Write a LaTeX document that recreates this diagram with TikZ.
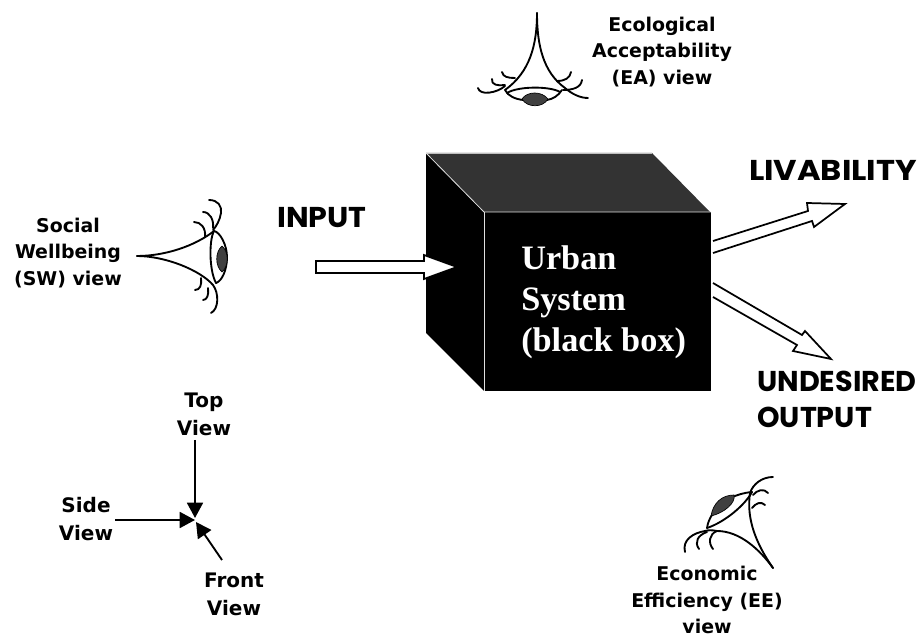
\documentclass[tikz,border=0pt]{standalone}
\usepackage{graphicx}
\usepackage{fontspec}
\setmainfont{Liberation Serif}
\setsansfont{DejaVu Sans}
\newfontfamily\comicfont{Poppins}
\usetikzlibrary{arrows.meta}
\tikzset{
 px/.style={x=0.75pt,y=-0.75pt},
 lab/.style={font=\sffamily\bfseries\fontsize{14.2}{19.6}\selectfont,align=center,inner sep=0pt,text=black},
 viewlab/.style={font=\sffamily\bfseries\fontsize{15}{21}\selectfont,align=center,inner sep=0pt,text=black},
 biglab/.style={font=\comicfont\bfseries\fontsize{21.5}{27}\selectfont,align=left,inner sep=0pt},
 boxlab/.style={font=\rmfamily\bfseries\fontsize{25.7}{30.6}\selectfont,align=left,inner sep=0pt,text=white,anchor=north west},
 eyeline/.style={draw=black,line width=1.4pt,line cap=round,line join=round},
 pupil/.style={fill=black!75,draw=black,line width=0.5pt},
 hollow/.style={draw=black,line width=1.3pt,fill=white,line join=miter},
 viewarrow/.style={draw=black,line width=1.4pt,-{Triangle[length=11.5pt,width=12pt]}}
}
\begin{document}
\begin{tikzpicture}[px]
\useasboundingbox (0,0) rectangle (922,634);
% box
\fill[black] (426,153) -- (484,212) -- (484,391) -- (426,333) -- cycle;
\fill[black!80] (426,153) -- (652,153) -- (710,212) -- (484,212) -- cycle;
\fill[black] (484,212) rectangle (711,391);
\draw[black!25,line width=0.6pt] (426,153) -- (652,153);
\draw[black!12,line width=0.6pt] (426,153) -- (484,212) -- (711,212);
\draw[black!12,line width=0.6pt] (484,212) -- (484,391);
\node[boxlab] (sys) at (521,245.5) {Urban\\System\\(black box)};
% input
\filldraw[hollow] (316,261) -- (424,261) -- (424,255) -- (457,267) -- (424,279) -- (424,273) -- (316,273) -- cycle;
\node[biglab] (input) at (322,218) {\scalebox{1.05}[1]{INPUT}};
% livability arrow
\coordinate (la) at (713,241);
\coordinate (lb) at (713,253);
\filldraw[hollow] (la) -- (808,211) -- (807,203) -- (845,204) -- (814,227) -- (812,221) -- (lb);
\node[biglab] (liv) at (833,170) {\scalebox{1.12}[1]{LIVABILITY}};
% undesired arrow
\coordinate (ua) at (713,283);
\coordinate (ub) at (713,297);
\filldraw[hollow] (ua) -- (802,335) -- (805,331) -- (831,359) -- (793,351) -- (797,345) -- (ub);
\node[biglab,anchor=base west] (und) at (757,392) {UNDESIRED};
\node[biglab,anchor=base west] (und2) at (757,428) {OUTPUT};
% top eye
\draw[eyeline] (537,13) .. controls (537,45) and (530,72) .. (505,90);
\draw[eyeline] (537,13) .. controls (537,45) and (543,72) .. (565,88) .. controls (572,94) and (580,98) .. (588,98);
\draw[eyeline] (505,90) .. controls (508,96) and (515,99) .. (523,100);
\draw[eyeline] (547,100) .. controls (553,99) and (558,96) .. (562,90);
\draw[eyeline] (507,93) .. controls (518,86) and (550,86) .. (560,92);
\draw[eyeline] (505,86) .. controls (497,93) and (480,96) .. (478,88);
\draw[eyeline] (505,85) .. controls (498,86) and (491,85) .. (492,79);
\draw[eyeline] (515,78) .. controls (508,78) and (503,77) .. (502,72);
\draw[eyeline] (557,81) .. controls (565,81) and (570,78) .. (571,72);
\draw[eyeline] (563,90) .. controls (572,90) and (581,88) .. (582,80);
\path[pupil] (522,99) .. controls (527,91) and (542,91) .. (548,99) .. controls (543,108) and (527,108) .. (522,99);
\node[lab] (ea) at (662,52) {Ecological\\Acceptability\\(EA) view};
% side eye
\draw[eyeline] (137,256) .. controls (165,256) and (195,246) .. (214,231);
\draw[eyeline] (137,256) .. controls (165,256) and (200,270) .. (213,285) .. controls (219,293) and (219,309) .. (211,313);
\draw[eyeline] (214,231) .. controls (209,240) and (209,270) .. (216,283);
\draw[eyeline] (214,231) .. controls (220,232) and (227,245) .. (227,257) .. controls (227,270) and (222,281) .. (216,283);
\draw[eyeline] (194,222) .. controls (201,222) and (206,228) .. (205,237);
\draw[eyeline] (203,212) .. controls (210,212) and (214,220) .. (213,228);
\draw[eyeline] (209,200) .. controls (218,200) and (222,206) .. (221,213) .. controls (220,220) and (216,227) .. (213,230);
\draw[eyeline] (201,278) .. controls (202,285) and (200,290) .. (195,290);
\draw[eyeline] (208,288) .. controls (209,295) and (207,300) .. (203,300);
\path[pupil] (222,246) .. controls (215,252) and (215,266) .. (222,272) .. controls (229,266) and (229,252) .. (222,246);
\node[lab] (sw) at (68,253) {Social\\Wellbeing\\(SW) view};
% bottom eye
\coordinate (eebase) at (773,568);
\draw[eyeline] (eebase) .. controls (760,550) and (740,531) .. (717,531) .. controls (712,530) and (708,530) .. (705,531) .. controls (693,533) and (682,540) .. (685,552);
\draw[eyeline] (eebase) .. controls (757,545) and (746,520) .. (750,493) .. controls (753,484) and (762,477) .. (773,477);
\draw[eyeline] (707,532) .. controls (698,535) and (694,542) .. (699,549);
\draw[eyeline] (717,531) .. controls (709,534) and (708,543) .. (713,549);
\draw[eyeline] (707,528) .. controls (708,518) and (720,495) .. (752,492);
\draw[eyeline] (707,528) .. controls (725,522) and (745,505) .. (752,492);
\draw[eyeline] (753,495) .. controls (757,490) and (764,488) .. (768,493);
\draw[eyeline] (752,508) .. controls (756,503) and (761,501) .. (765,505);
\path[pupil] (711,516) .. controls (713,503) and (722,495) .. (734,495) .. controls (736,503) and (724,513) .. (711,516);
\node[lab] (ee) at (707,600) {Economic\\Efficiency (EE)\\view};
% orientation
\coordinate (meet) at (195,520);
\node[viewlab] (top) at (204,414) {Top\\View};
\node[viewlab] (side) at (86,519) {Side\\View};
\node[viewlab] (front) at (234,594) {Front\\View};
\coordinate (t0) at (195,440);
\coordinate (s0) at (115,520);
\coordinate (f0) at (222,560);
\draw[viewarrow] (t0) -- (195,518);
\draw[viewarrow] (s0) -- (meet);
\draw[viewarrow] (f0) -- (196,522);
\end{tikzpicture}
\end{document}
